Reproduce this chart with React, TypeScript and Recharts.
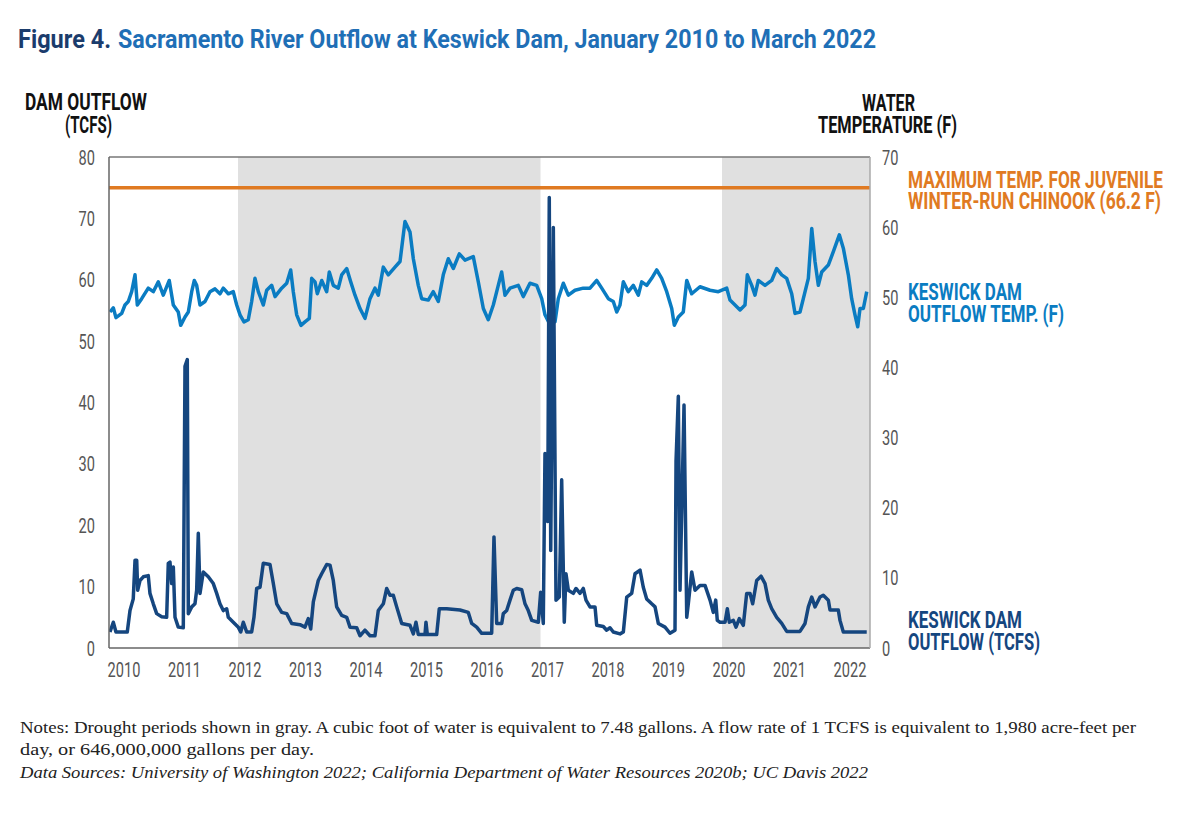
import React from 'react';
import { LineChart, Line, XAxis, YAxis, ReferenceArea, ReferenceLine } from 'recharts';

// Keswick Dam outflow temperature (F), decimal year positions
const tempYears = [2009.884, 2009.939, 2009.983, 2010.078, 2010.132, 2010.187, 2010.243, 2010.298, 2010.336, 2010.408, 2010.517, 2010.6, 2010.683, 2010.765, 2010.864, 2010.931, 2011.013, 2011.053, 2011.124, 2011.179, 2011.235, 2011.278, 2011.317, 2011.372, 2011.455, 2011.537, 2011.62, 2011.702, 2011.757, 2011.84, 2011.922, 2011.979, 2012.033, 2012.099, 2012.17, 2012.226, 2012.281, 2012.336, 2012.418, 2012.474, 2012.557, 2012.612, 2012.722, 2012.805, 2012.871, 2012.914, 2012.97, 2013.041, 2013.107, 2013.179, 2013.218, 2013.273, 2013.311, 2013.384, 2013.466, 2013.509, 2013.575, 2013.658, 2013.714, 2013.797, 2013.863, 2013.934, 2014.017, 2014.099, 2014.182, 2014.264, 2014.319, 2014.402, 2014.484, 2014.595, 2014.678, 2014.76, 2014.843, 2014.898, 2014.98, 2015.036, 2015.145, 2015.228, 2015.311, 2015.393, 2015.476, 2015.559, 2015.658, 2015.752, 2015.889, 2015.972, 2016.055, 2016.137, 2016.22, 2016.302, 2016.358, 2016.413, 2016.496, 2016.633, 2016.716, 2016.826, 2016.937, 2017.02, 2017.074, 2017.145, 2017.24, 2017.294, 2017.377, 2017.46, 2017.57, 2017.707, 2017.818, 2017.929, 2018.012, 2018.121, 2018.203, 2018.26, 2018.314, 2018.369, 2018.451, 2018.534, 2018.617, 2018.673, 2018.755, 2018.838, 2018.921, 2019.003, 2019.086, 2019.169, 2019.212, 2019.278, 2019.36, 2019.417, 2019.499, 2019.636, 2019.802, 2019.939, 2020.078, 2020.132, 2020.215, 2020.298, 2020.38, 2020.418, 2020.491, 2020.545, 2020.6, 2020.711, 2020.821, 2020.904, 2020.987, 2021.069, 2021.152, 2021.207, 2021.289, 2021.344, 2021.427, 2021.483, 2021.537, 2021.592, 2021.648, 2021.757, 2021.84, 2021.939, 2022.005, 2022.088, 2022.143, 2022.198, 2022.243, 2022.281, 2022.336, 2022.392];
const tempValues = [47.9, 48.5, 47.1, 47.7, 48.9, 49.4, 50.8, 53.2, 48.9, 49.8, 51.3, 50.8, 52.2, 50.3, 52.4, 48.9, 47.9, 46.0, 47.2, 47.9, 50.8, 52.4, 51.7, 48.9, 49.4, 50.8, 51.2, 50.5, 51.3, 50.5, 50.8, 48.9, 47.5, 46.5, 46.8, 49.4, 52.7, 50.8, 48.9, 51.0, 51.7, 50.1, 51.3, 52.0, 53.9, 50.8, 47.5, 46.0, 46.5, 47.0, 52.7, 52.2, 50.5, 52.4, 50.8, 53.6, 51.7, 51.3, 53.2, 54.1, 52.2, 50.3, 48.4, 47.0, 49.8, 51.3, 50.3, 54.3, 53.2, 54.3, 55.1, 60.8, 59.3, 55.5, 51.7, 49.8, 49.6, 50.8, 49.4, 53.2, 55.5, 54.1, 56.2, 55.3, 55.8, 52.2, 48.4, 46.8, 48.9, 51.7, 53.6, 50.3, 51.3, 51.7, 50.1, 52.0, 51.7, 49.8, 47.5, 46.3, 46.5, 49.8, 52.0, 50.3, 51.0, 51.3, 51.3, 52.4, 51.3, 49.8, 49.4, 47.9, 48.9, 52.2, 50.8, 51.7, 50.3, 52.2, 51.7, 52.7, 53.9, 52.7, 50.8, 48.4, 46.0, 47.2, 47.9, 52.4, 50.5, 51.5, 51.0, 50.8, 51.3, 49.6, 48.9, 48.2, 48.9, 53.2, 51.7, 50.3, 52.4, 51.7, 52.4, 54.1, 53.2, 52.7, 50.5, 47.7, 47.9, 49.8, 52.7, 59.8, 55.1, 51.7, 53.6, 54.6, 56.5, 58.9, 57.0, 53.2, 49.8, 47.5, 45.8, 48.4, 48.4, 50.8];

// Keswick Dam outflow (thousand cubic feet per second), decimal year positions
const flowYears = [2009.884, 2009.939, 2009.983, 2010.17, 2010.215, 2010.269, 2010.298, 2010.326, 2010.342, 2010.38, 2010.435, 2010.517, 2010.545, 2010.6, 2010.656, 2010.739, 2010.821, 2010.848, 2010.876, 2010.904, 2010.931, 2010.959, 2011.013, 2011.096, 2011.124, 2011.162, 2011.179, 2011.235, 2011.289, 2011.317, 2011.344, 2011.372, 2011.426, 2011.509, 2011.592, 2011.648, 2011.702, 2011.757, 2011.813, 2011.84, 2011.922, 2012.005, 2012.045, 2012.088, 2012.144, 2012.226, 2012.264, 2012.309, 2012.364, 2012.418, 2012.529, 2012.584, 2012.64, 2012.722, 2012.805, 2012.888, 2013.025, 2013.107, 2013.162, 2013.202, 2013.245, 2013.327, 2013.383, 2013.466, 2013.521, 2013.575, 2013.631, 2013.714, 2013.797, 2013.851, 2013.962, 2014.017, 2014.099, 2014.182, 2014.264, 2014.319, 2014.402, 2014.458, 2014.512, 2014.567, 2014.623, 2014.706, 2014.843, 2014.898, 2014.942, 2014.98, 2015.091, 2015.107, 2015.129, 2015.284, 2015.327, 2015.45, 2015.669, 2015.807, 2015.863, 2015.945, 2016.028, 2016.193, 2016.231, 2016.276, 2016.359, 2016.385, 2016.441, 2016.496, 2016.55, 2016.607, 2016.689, 2016.744, 2016.798, 2016.855, 2016.964, 2017.003, 2017.046, 2017.074, 2017.119, 2017.145, 2017.169, 2017.212, 2017.256, 2017.311, 2017.35, 2017.393, 2017.421, 2017.46, 2017.542, 2017.587, 2017.653, 2017.707, 2017.752, 2017.818, 2017.901, 2017.929, 2018.038, 2018.094, 2018.149, 2018.203, 2018.314, 2018.369, 2018.425, 2018.507, 2018.562, 2018.645, 2018.699, 2018.755, 2018.838, 2018.893, 2018.947, 2019.058, 2019.14, 2019.223, 2019.24, 2019.278, 2019.306, 2019.372, 2019.417, 2019.443, 2019.499, 2019.554, 2019.636, 2019.719, 2019.802, 2019.856, 2019.896, 2019.922, 2019.967, 2020.05, 2020.088, 2020.121, 2020.187, 2020.231, 2020.286, 2020.352, 2020.408, 2020.463, 2020.507, 2020.573, 2020.645, 2020.711, 2020.765, 2020.821, 2020.904, 2020.987, 2021.069, 2021.289, 2021.372, 2021.427, 2021.483, 2021.537, 2021.62, 2021.674, 2021.757, 2021.785, 2021.922, 2021.95, 2022.005, 2022.392];
const flowValues = [2.6, 4.2, 2.6, 2.6, 6.1, 8.0, 14.3, 14.3, 9.4, 11.0, 11.6, 11.8, 8.9, 7.2, 5.6, 5.1, 5.0, 13.8, 14.0, 10.5, 13.2, 5.0, 3.4, 3.3, 45.9, 47.0, 5.6, 6.7, 7.2, 9.4, 18.7, 8.9, 12.4, 11.6, 10.5, 8.9, 7.2, 6.1, 6.4, 5.0, 4.2, 3.4, 2.6, 4.2, 2.6, 2.6, 5.0, 9.7, 9.9, 13.8, 13.6, 10.5, 7.2, 5.8, 5.6, 4.0, 3.8, 3.4, 4.8, 3.1, 7.5, 11.0, 12.1, 13.6, 13.5, 11.0, 6.7, 5.3, 5.0, 3.4, 3.3, 2.0, 2.9, 2.0, 2.0, 6.1, 7.2, 9.7, 8.6, 8.6, 6.7, 4.0, 3.7, 2.3, 4.2, 2.2, 2.2, 4.2, 2.2, 2.2, 6.4, 6.4, 6.2, 5.8, 4.0, 3.4, 2.4, 2.4, 18.1, 4.0, 4.0, 5.6, 6.1, 7.8, 9.4, 9.7, 9.5, 7.2, 6.1, 4.5, 4.2, 9.1, 4.0, 31.7, 20.6, 73.4, 15.9, 68.5, 7.8, 8.3, 27.4, 4.2, 12.1, 9.4, 8.9, 9.7, 8.9, 9.7, 7.8, 6.7, 6.7, 3.7, 3.5, 2.9, 3.3, 2.6, 2.3, 2.6, 8.3, 8.9, 12.1, 12.7, 9.9, 8.0, 7.2, 6.7, 4.0, 3.4, 2.4, 2.9, 30.4, 41.0, 9.4, 39.6, 5.0, 7.2, 12.4, 9.4, 10.2, 10.2, 7.8, 5.8, 7.8, 4.5, 4.2, 4.2, 6.4, 4.2, 4.5, 3.4, 4.8, 3.7, 8.9, 8.9, 7.2, 11.0, 11.7, 10.5, 7.8, 6.4, 5.0, 4.0, 2.7, 2.7, 4.0, 6.7, 8.3, 6.7, 8.3, 8.6, 7.8, 6.2, 6.2, 4.5, 2.6, 2.6];

const yearTicks = [2010, 2011, 2012, 2013, 2014, 2015, 2016, 2017, 2018, 2019, 2020, 2021, 2022];
const flowTicks = [0, 10, 20, 30, 40, 50, 60, 70, 80];
const tempTicks = [0, 10, 20, 30, 40, 50, 60, 70];
const droughtPeriods = [[2012, 2017], [2020, 2022.446]];
const maxJuvenileTemp = 65.6;

const xDomain = [2009.868, 2022.446];

const tempData = tempYears.map((y, i) => ({ year: y, value: tempValues[i] }));
const flowData = flowYears.map((y, i) => ({ year: y, value: flowValues[i] }));

const SANS = "Roboto, 'DejaVu Sans', sans-serif";
const SERIF = "'Liberation Serif', 'DejaVu Serif', serif";
const DIGIT_W = 8.2;

let measureCtx: CanvasRenderingContext2D | null = null;
function measure(text: string, font: string): number {
  if (typeof document === 'undefined') return text.length * 10;
  if (!measureCtx) measureCtx = document.createElement('canvas').getContext('2d');
  if (!measureCtx) return text.length * 10;
  measureCtx.font = font;
  return measureCtx.measureText(text).width || text.length * 10;
}

type Ln = { t: string; w: number };
type LabelProps = { lines: Ln[]; x: number; y: number; lh?: number; color: string; size: number; sy?: number; weight?: number; italic?: boolean; family?: string };

// size = visual glyph size; the font is set at size/sy and stretched vertically by sy
const Label = ({ lines, x, y, lh = 22, color, size, sy = 1, weight = 700, italic = false, family = SANS }: LabelProps) => {
  const fs = size / sy;
  const font = `${italic ? 'italic ' : ''}${weight} ${fs}px ${family}`;
  let wi = 0;
  lines.forEach((l, i) => { if (l.w > lines[wi].w) wi = i; });
  const sx = lines[wi].w / measure(lines[wi].t, font);
  return (
    <>
      {lines.map((l, i) => (
        <text key={i} transform={`translate(${x},${y + i * lh}) scale(${sx.toFixed(4)},${sy})`} fill={color} fontFamily={family}
          fontWeight={weight} fontStyle={italic ? 'italic' : 'normal'} fontSize={fs}
          textLength={(l.w / sx).toFixed(2)} lengthAdjust="spacingAndGlyphs">
          {l.t}
        </text>
      ))}
    </>
  );
};

const NumTick = ({ x, y, s, anchor }: { x: number; y: number; s: string; anchor: 'start' | 'middle' | 'end' }) => {
  const font = `400 21px ${SANS}`;
  const sx = (s.length * DIGIT_W) / measure(s, font);
  return (
    <text transform={`translate(${x},${y}) scale(${sx.toFixed(4)},1)`} textAnchor={anchor} fill="#555" fontSize={21} fontFamily={SANS}>
      {s}
    </text>
  );
};

const YearTick = (props: any) => <NumTick x={props.x + 7} y={props.y + 29} s={String(props.payload.value)} anchor="middle" />;
const LeftTick = (props: any) => <NumTick x={props.x} y={props.y + 7.5} s={String(props.payload.value)} anchor="end" />;
const RightTick = (props: any) => <NumTick x={props.x} y={props.y + 7.5} s={String(props.payload.value)} anchor="start" />;

const SY = 1.3;

export default function App() {
  return (
    <div style={{ position: 'absolute', left: 0, top: 0, width: 1192, height: 813, background: '#fff', overflow: 'hidden' }}>
      <div style={{ position: 'absolute', left: 0, top: 0 }}>
        <LineChart width={1192} height={813} margin={{ top: 157, right: 282, bottom: 135, left: 69 }}>
          <XAxis
            type="number"
            dataKey="year"
            domain={xDomain}
            ticks={yearTicks}
            allowDataOverflow
            tickLine={false}
            tickSize={0}
            tickMargin={0}
            axisLine={{ stroke: '#666', strokeWidth: 1.5 }}
            tick={<YearTick />}
            height={30}
            interval={0}
          />
          <YAxis
            yAxisId="flow"
            domain={[0, 80]}
            ticks={flowTicks}
            width={40}
            tickSize={0}
            tickMargin={14}
            tickLine={false}
            axisLine={{ stroke: '#666', strokeWidth: 1.5 }}
            tick={<LeftTick />}
            interval={0}
          />
          <YAxis
            yAxisId="temp"
            orientation="right"
            domain={[0, 70]}
            ticks={tempTicks}
            width={40}
            tickSize={0}
            tickMargin={12}
            tickLine={false}
            axisLine={{ stroke: '#aaa', strokeWidth: 1.5 }}
            tick={<RightTick />}
            interval={0}
          />
          {droughtPeriods.map(([a, b]) => (
            <ReferenceArea key={a} yAxisId="flow" x1={a} x2={b} y1={0} y2={80} fill="#e0e0e0" fillOpacity={1} stroke="none" />
          ))}
          <ReferenceLine yAxisId="flow" y={80} stroke="#777" strokeWidth={1.5} />
          <ReferenceLine yAxisId="temp" y={maxJuvenileTemp} stroke="#e07a22" strokeWidth={3.5} />
          <Line yAxisId="temp" data={tempData} dataKey="value" type="linear" stroke="#0a7cc2" strokeWidth={3.5} dot={false} isAnimationActive={false} strokeLinejoin="round" />
          <Line yAxisId="flow" data={flowData} dataKey="value" type="linear" stroke="#15467f" strokeWidth={3.5} dot={false} isAnimationActive={false} strokeLinejoin="round" />
        </LineChart>
      </div>
      <svg width={1192} height={813} style={{ position: 'absolute', left: 0, top: 0, pointerEvents: 'none' }}>
        <Label lines={[{ t: 'Figure 4.', w: 93 }]} x={18} y={48} color="#1b3c6c" size={25} />
        <Label lines={[{ t: 'Sacramento River Outflow at Keswick Dam, January 2010 to March 2022', w: 758 }]} x={118} y={48} color="#1f6fb6" size={25} />
        <Label lines={[{ t: 'DAM OUTFLOW', w: 122 }]} x={25} y={110} color="#111" size={23} sy={SY} />
        <Label lines={[{ t: '(TCFS)', w: 47 }]} x={65} y={133} color="#111" size={23} sy={SY} />
        <Label lines={[{ t: 'WATER', w: 53 }]} x={862} y={111} color="#111" size={23} sy={SY} />
        <Label lines={[{ t: 'TEMPERATURE (F)', w: 139 }]} x={818} y={133} color="#111" size={23} sy={SY} />
        <Label lines={[{ t: 'MAXIMUM TEMP. FOR JUVENILE', w: 255 }, { t: 'WINTER-RUN CHINOOK (66.2 F)', w: 253 }]} x={908} y={188} lh={21} color="#e07a22" size={23} sy={SY} />
        <Label lines={[{ t: 'KESWICK DAM', w: 114 }, { t: 'OUTFLOW TEMP. (F)', w: 156 }]} x={908} y={300} lh={22} color="#0a7cc2" size={23} sy={SY} />
        <Label lines={[{ t: 'KESWICK DAM', w: 114 }, { t: 'OUTFLOW (TCFS)', w: 132 }]} x={908} y={628} lh={22} color="#15467f" size={23} sy={SY} />
        <Label lines={[{ t: 'Notes: Drought periods shown in gray. A cubic foot of water is equivalent to 7.48 gallons. A flow rate of 1 TCFS is equivalent to 1,980 acre-feet per', w: 1116 }]}
          x={20} y={733} color="#222" size={17.5} weight={400} family={SERIF} />
        <Label lines={[{ t: 'day, or 646,000,000 gallons per day.', w: 294 }]} x={20} y={755} color="#222" size={17.5} weight={400} family={SERIF} />
        <Label lines={[{ t: 'Data Sources: University of Washington 2022; California Department of Water Resources 2020b; UC Davis 2022', w: 848 }]}
          x={20} y={778} color="#222" size={17.5} weight={400} italic family={SERIF} />
      </svg>
    </div>
  );
}
